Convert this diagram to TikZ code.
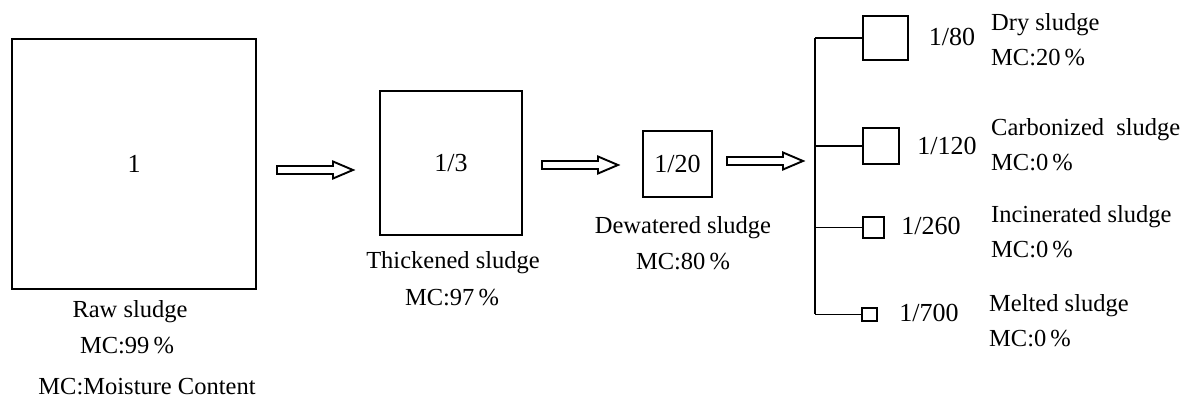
\documentclass[tikz,border=0pt]{standalone}
\usepackage{fontspec}
\setmainfont{Liberation Serif}
\usetikzlibrary{calc}
\begin{document}
\begin{tikzpicture}[x=1pt,y=-1pt,
  box/.style={draw, line width=2.2pt, inner sep=0pt, font=\fontsize{26}{30}\selectfont},
  lbl/.style={font=\fontsize{24.5}{28}\selectfont, inner sep=0pt},
  num/.style={font=\fontsize{26}{30}\selectfont, inner sep=0pt},
  branch/.style={line width=1.6pt},
  hollow/.style={line width=1.9pt, line join=miter,
    to path={let \p1=(\tikztostart), \p2=(\tikztotarget) in
      (\x1,\y1+4pt) -- (\x2-20pt,\y1+4pt) -- (\x2-20pt,\y1+8.5pt) -- (\x2,\y1)
      -- (\x2-20pt,\y1-8.5pt) -- (\x2-20pt,\y1-4pt) -- (\x1,\y1-4pt) -- cycle}}
]
\useasboundingbox (0,0) rectangle (1184,403);

% main boxes
\node[box, line width=2.8pt, minimum width=244, minimum height=250] (raw) at (134,164) {1};
\node[box, minimum width=142, minimum height=144] (thick) at (451,163) {1/3};
\node[box, minimum width=69, minimum height=66] (dew) at (677.5,164) {1/20};

% labels of main boxes
\node[lbl] (rawl1) at (130,312) {Raw sludge};
\node[lbl] (rawl2) at (127,346) {MC:99\,\%};
\node[lbl] (legend) at (147,387) {MC:Moisture Content};
\node[lbl] (thl1) at (453,263) {Thickened sludge};
\node[lbl] (thl2) at (452,298) {MC:97\,\%};
\node[lbl] (dwl1) at (683,228) {Dewatered sludge};
\node[lbl] (dwl2) at (683,262) {MC:80\,\%};

% hollow arrows
\coordinate (a1s) at (277,170);
\coordinate (a1e) at (353,170);
\coordinate (a2s) at (542,165);
\coordinate (a2e) at (618,165);
\coordinate (a3s) at (727,161);
\coordinate (a3e) at (803,161);
\draw[hollow] (a1s) to (a1e);
\draw[hollow] (a2s) to (a2e);
\draw[hollow] (a3s) to (a3e);

% right boxes
\node[box, minimum width=45, minimum height=44] (b1) at (885.5,38) {};
\node[box, minimum width=36, minimum height=36] (b2) at (881,146) {};
\node[box, minimum width=21, minimum height=21] (b3) at (873.5,227.5) {};
\node[box, minimum width=15, minimum height=13] (b4) at (869.5,314.5) {};

% branch lines
\coordinate (vt) at (815,38);
\coordinate (vb) at (815,314.5);
\draw[branch] (vt) -- (vb);
\draw[branch] (vt) -- (b1.west);
\draw[branch] (b2.west -| vt) -- (b2.west);
\draw[branch] (b3.west -| vt) -- (b3.west);
\draw[branch] (vb) -- (b4.west);

% ratios
\node[num] (n1) at (952,37) {1/80};
\node[num] (n2) at (947,146) {1/120};
\node[num] (n3) at (931,226) {1/260};
\node[num] (n4) at (929,313) {1/700};

% right labels
\node[lbl, anchor=west] (r1a) at (991,25) {Dry sludge};
\node[lbl, anchor=west] (r1b) at (991,58) {MC:20\,\%};
\node[lbl, anchor=west] (r2a) at (991,130) {Carbonized\ \ sludge};
\node[lbl, anchor=west] (r2b) at (991,163) {MC:0\,\%};
\node[lbl, anchor=west] (r3a) at (991,217) {Incinerated sludge};
\node[lbl, anchor=west] (r3b) at (991,250) {MC:0\,\%};
\node[lbl, anchor=west] (r4a) at (989,306) {Melted sludge};
\node[lbl, anchor=west] (r4b) at (989,339) {MC:0\,\%};
\end{tikzpicture}
\end{document}
